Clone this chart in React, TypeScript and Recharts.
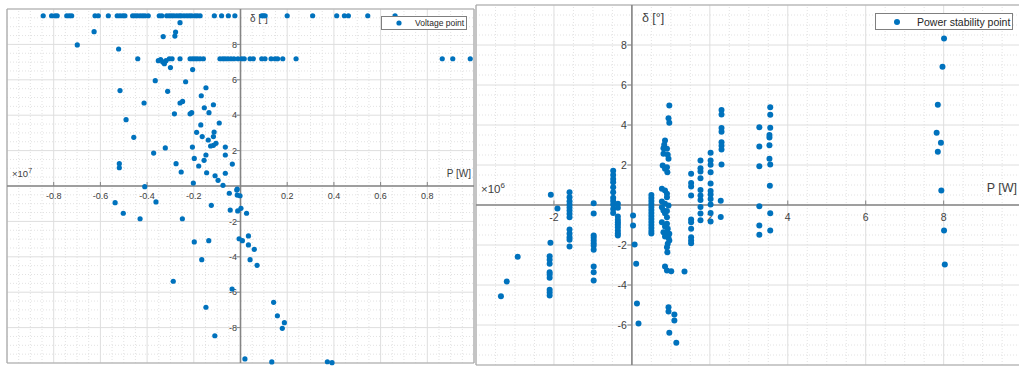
import React from 'react';
import { ScatterChart, Scatter, XAxis, YAxis, ReferenceLine, ReferenceDot, Legend } from 'recharts';

const BLUE = '#0072BD';
const FONT = '"Liberation Sans", Arial, Helvetica, sans-serif';
const TXT = '#404040';
const AXIS = '#858585';
const BOX = '#a8a8a8';
const MAJOR = '#dedede';
const MINOR = '#e2e2e2';

type Pt = [number, number];

// ---------------- Left panel: Voltage point ----------------
const voltageTopRow: Pt[] = [
  [-0.845, 9.62], [-0.809, 9.62], [-0.794, 9.62], [-0.785, 9.62], [-0.744, 9.62], [-0.733, 9.62], [-0.723, 9.62],
  [-0.623, 9.62], [-0.609, 9.62], [-0.566, 9.62], [-0.528, 9.62], [-0.516, 9.62], [-0.504, 9.62], [-0.495, 9.62],
  [-0.462, 9.62], [-0.452, 9.62], [-0.442, 9.62], [-0.43, 9.62], [-0.419, 9.62], [-0.409, 9.62], [-0.395, 9.62],
  [-0.348, 9.62], [-0.337, 9.62], [-0.316, 9.62], [-0.305, 9.62], [-0.295, 9.62], [-0.285, 9.62], [-0.273, 9.62],
  [-0.262, 9.62], [-0.254, 9.62], [-0.242, 9.62], [-0.23, 9.62], [-0.219, 9.62], [-0.209, 9.62], [-0.195, 9.62],
  [-0.185, 9.62], [-0.173, 9.62], [-0.112, 9.62], [-0.081, 9.62], [-0.052, 9.62], [-0.024, 9.62], [0.091, 9.62],
  [0.098, 9.62], [0.105, 9.62], [0.2, 9.62], [0.309, 9.62], [0.412, 9.62], [0.445, 9.62], [0.462, 9.62],
  [0.545, 9.62], [0.662, 9.62],
];

const voltageMidRow: Pt[] = [
  [-0.44, 7.19], [-0.352, 7.08], [-0.342, 7.14], [-0.333, 7.01], [-0.326, 6.91], [-0.319, 7.08], [-0.305, 7.19],
  [-0.293, 7.19], [-0.259, 7.19], [-0.216, 7.19], [-0.205, 7.19], [-0.195, 7.19], [-0.185, 7.19], [-0.173, 7.19],
  [-0.159, 7.19], [-0.088, 7.19], [-0.076, 7.19], [-0.066, 7.19], [-0.054, 7.19], [-0.041, 7.19], [-0.028, 7.19],
  [-0.011, 7.19], [0.005, 7.19], [0.016, 7.19], [0.041, 7.19], [0.055, 7.19], [0.091, 7.19], [0.105, 7.19],
  [0.131, 7.19], [0.148, 7.19], [0.159, 7.19], [0.181, 7.19], [0.238, 7.19], [0.864, 7.19], [0.909, 7.19],
  [0.984, 7.19],
];

const voltageScatter: Pt[] = [
  [-0.259, 9.23], [-0.627, 8.72], [-0.278, 8.7], [-0.331, 8.44], [-0.281, 8.47], [-0.699, 7.97], [-0.522, 7.74],
  [-0.3, 6.69], [-0.205, 6.58], [-0.365, 5.95], [-0.235, 5.89], [-0.148, 5.55], [-0.516, 5.39], [-0.312, 5.35],
  [-0.168, 5.1], [-0.248, 4.78], [-0.259, 4.69], [-0.413, 4.69], [-0.116, 4.59], [-0.155, 4.42], [-0.135, 4.14],
  [-0.283, 4.08], [-0.209, 4.14], [-0.216, 4.08], [-0.49, 3.75], [-0.091, 3.56], [-0.17, 3.45], [-0.188, 3.03],
  [-0.113, 3.05], [-0.164, 2.79], [-0.116, 2.79], [-0.457, 2.75], [-0.138, 2.6], [-0.105, 2.41], [-0.116, 2.3],
  [-0.128, 2.26], [-0.206, 2.2], [-0.065, 2.2], [-0.322, 2.15], [-0.372, 1.86], [-0.148, 1.75], [-0.065, 1.75],
  [-0.198, 1.56], [-0.156, 1.45], [-0.276, 1.26], [-0.035, 1.24], [-0.519, 1.26], [-0.519, 1.03], [-0.179, 1.13],
  [-0.254, 0.79], [-0.145, 0.75], [-0.065, 0.72], [-0.109, 0.58], [-0.096, 0.32], [-0.075, 0.04], [-0.202, 0.17],
  [-0.014, -0.17], [-0.41, -0.04], [-0.048, -0.41], [-0.016, -0.23], [-0.014, -0.51], [-0.002, -0.55],
  [-0.537, -0.94], [-0.362, -0.9], [-0.125, -1.09], [-0.502, -1.54], [-0.044, -1.36], [-0.012, -1.41],
  [0.002, -1.26], [0.026, -1.54], [-0.43, -1.85], [-0.249, -1.85], [-0.198, -3.16], [-0.136, -3.09],
  [-0.006, -2.98], [0.008, -3.09], [0.034, -2.82], [0.034, -3.33], [0.059, -3.58], [-0.166, -4.16],
  [0.041, -4.16], [0.071, -4.48], [-0.288, -5.38], [-0.036, -5.82], [-0.148, -6.85], [-0.11, -8.46],
  [0.142, -6.57], [0.158, -7.33], [0.188, -7.72], [0.179, -8.04], [0.019, -9.77], [0.134, -9.94],
  [0.372, -9.93], [0.392, -9.98],
];

const leftXDomain: [number, number] = [-1, 1];
const leftYDomain: [number, number] = [-10, 10];
const leftXTicks = [-0.8, -0.6, -0.4, -0.2, 0.2, 0.4, 0.6, 0.8];
const leftYTicks = [8, 6, 4, 2, -2, -4, -6, -8];

// ---------------- Right panel: Power stability point ----------------
const powerPoints: Pt[] = [
  [-3.36, -4.56], [-3.21, -3.83], [-2.93, -2.59],
  [-2.08, 0.51], [-1.91, -0.18], [-2.09, -1.89], [-2.11, -2.56], [-2.11, -2.74], [-2.11, -2.94], [-2.11, -3.36],
  [-2.11, -3.48], [-2.11, -3.64], [-2.11, -4.24], [-2.11, -4.38], [-2.11, -4.53],
  [-1.6, 0.64], [-1.6, 0.39], [-1.6, 0.19], [-1.6, 0.03], [-1.6, -0.13], [-1.6, -0.28], [-1.6, -0.44],
  [-1.6, -0.61], [-1.6, -1.22], [-1.6, -1.42], [-1.6, -1.61], [-1.6, -1.74], [-1.6, -2.07],
  [-0.98, 0.09], [-0.98, -0.42], [-0.98, -1.53], [-0.98, -1.64], [-0.98, -1.78], [-0.98, -1.91], [-0.98, -2.04],
  [-0.98, -2.24], [-0.98, -3.08], [-0.98, -3.36], [-0.98, -3.78],
  [-0.48, 1.71], [-0.48, 1.5], [-0.48, 1.3], [-0.48, 1.14], [-0.48, 0.89], [-0.48, 0.64], [-0.48, 0.36],
  [-0.48, 0.2], [-0.48, 0.03], [-0.48, -0.2], [-0.48, -0.4],
  [-0.36, 0.06], [-0.36, -0.14], [-0.36, -0.58], [-0.36, -0.74], [-0.36, -0.86], [-0.36, -0.98], [-0.36, -1.11],
  [-0.36, -1.28], [-0.36, -1.41], [-0.36, -1.53],
  [0.03, -0.53], [0.03, -1.03], [0.07, -1.98], [0.11, -2.94], [0.13, -4.93], [0.17, -5.93],
  [0.5, 0.5], [0.5, 0.35], [0.5, 0.2], [0.5, 0.05], [0.5, -0.1], [0.5, -0.25], [0.5, -0.4], [0.5, -0.55],
  [0.5, -0.7], [0.5, -0.85], [0.5, -1.0], [0.5, -1.15], [0.5, -1.3], [0.5, -1.42],
  [0.96, 4.98], [0.94, 4.34], [0.96, 4.11], [0.85, 3.23], [0.83, 3.01], [0.81, 2.84], [0.9, 2.81], [0.81, 2.56],
  [0.92, 2.51], [0.94, 2.31], [0.79, 1.98], [0.9, 1.89], [0.85, 1.81], [0.91, 1.64], [0.77, 0.81], [0.85, 0.73],
  [0.9, 0.56], [0.9, 0.39], [0.77, 0.18], [0.85, 0.06], [0.94, -0.03], [0.77, -0.11], [0.81, -0.28], [0.9, -0.3],
  [0.85, -0.41], [0.9, -0.61], [0.77, -0.86], [0.9, -0.94], [0.85, -1.08], [0.92, -1.19], [0.81, -1.36],
  [0.9, -1.41], [0.96, -1.44], [0.85, -1.58], [0.94, -1.64], [0.96, -1.78], [0.92, -1.94], [0.9, -2.11],
  [0.91, -2.36], [0.85, -3.08], [0.9, -3.28], [1.01, -3.31], [0.94, -5.11], [0.94, -5.33], [1.09, -5.48],
  [1.09, -5.78], [0.96, -6.39], [1.14, -6.89], [1.35, -3.33],
  [1.52, 1.56], [1.52, 1.1], [1.52, 0.92], [1.52, 0.48], [1.52, -0.72], [1.52, -0.86], [1.52, -1.19],
  [1.52, -1.61], [1.52, -1.78], [1.52, -1.91],
  [1.76, 2.23], [1.76, 1.84], [1.76, 1.68], [1.76, 1.34], [1.76, 0.75], [1.76, 0.47], [1.76, 0.25],
  [1.76, -0.1], [1.76, -0.42], [1.76, -0.76],
  [2.02, 2.61], [2.02, 2.23], [2.02, 2.01], [2.02, 1.64], [2.02, 1.08], [2.02, 0.7], [2.02, 0.52], [2.02, 0.3],
  [2.02, 0.03], [2.02, -0.4], [2.02, -0.82],
  [2.3, 4.75], [2.3, 4.53], [2.3, 3.85], [2.3, 3.66], [2.3, 3.14], [2.3, 2.96], [2.3, 2.77], [2.3, 2.02],
  [2.28, 0.21], [2.28, -0.6],
  [3.55, 4.89], [3.55, 4.51], [3.27, 3.89], [3.55, 3.86], [3.53, 3.5], [3.53, 3.38], [3.27, 2.93], [3.53, 2.99],
  [3.53, 2.31], [3.55, 2.03], [3.27, 1.94], [3.54, 0.96], [3.27, -0.06], [3.55, -0.41], [3.27, -1.03],
  [3.55, -1.28], [3.27, -1.49],
  [8.01, 8.33], [7.97, 6.91], [7.85, 5.01], [7.82, 3.61], [7.93, 3.11], [7.85, 2.66], [7.94, 0.73],
  [8.01, -1.28], [8.03, -2.98],
];

const rightXDomain: [number, number] = [-4, 10];
const rightYDomain: [number, number] = [-8, 10];
const rightXTicks = [-2, 2, 4, 6, 8];
const rightYTicks = [8, 6, 4, 2, -2, -4, -6];

// ---------------- helpers ----------------
const toData = (pts: Pt[]) => pts.map(([x, y]) => ({ x, y }));

function steps(a: number, b: number, step: number): number[] {
  const out: number[] = [];
  const n = Math.round((b - a) / step);
  for (let i = 0; i <= n; i++) out.push(+(a + i * step).toFixed(4));
  return out;
}

function gridLines(axis: 'x' | 'y', domain: [number, number], major: number, minor: number, prefix: string) {
  const minorVals = steps(domain[0], domain[1], minor);
  const isMajor = (v: number) => Math.abs(v / major - Math.round(v / major)) < 1e-6;
  const els: React.ReactNode[] = [];
  minorVals.forEach((v, i) => {
    if (isMajor(v)) return;
    const p = axis === 'x' ? { x: v } : { y: v };
    els.push(
      <ReferenceLine key={`${prefix}m${axis}${i}`} {...p} stroke={MINOR} strokeWidth={1} strokeDasharray="1 2" ifOverflow="visible" />
    );
  });
  steps(domain[0], domain[1], major).forEach((v, i) => {
    const p = axis === 'x' ? { x: v } : { y: v };
    els.push(<ReferenceLine key={`${prefix}M${axis}${i}`} {...p} stroke={MAJOR} strokeWidth={1} ifOverflow="visible" />);
  });
  return els;
}

function boxLines(xd: [number, number], yd: [number, number], prefix: string) {
  return [
    <ReferenceLine key={`${prefix}b1`} x={xd[0]} stroke={BOX} strokeWidth={1.2} ifOverflow="visible" />,
    <ReferenceLine key={`${prefix}b2`} x={xd[1]} stroke={BOX} strokeWidth={1.2} ifOverflow="visible" />,
    <ReferenceLine key={`${prefix}b3`} y={yd[0]} stroke={BOX} strokeWidth={1.2} ifOverflow="visible" />,
    <ReferenceLine key={`${prefix}b4`} y={yd[1]} stroke={BOX} strokeWidth={1.2} ifOverflow="visible" />,
  ];
}

interface TickOpts {
  fontSize: number;
  xLabelDy: number;
  yLabelDx: number;
  yLabelDy: number;
  tickLen: number;
}

function tickMarks(xTicks: number[], yTicks: number[], o: TickOpts, prefix: string) {
  const els: React.ReactNode[] = [];
  xTicks.forEach((t, i) => {
    els.push(
      <ReferenceDot
        key={`${prefix}tx${i}`}
        x={t}
        y={0}
        r={0}
        ifOverflow="visible"
        shape={(p: any) => (
          <g>
            <line x1={p.cx} x2={p.cx} y1={p.cy} y2={p.cy - o.tickLen} stroke={AXIS} strokeWidth={1} />
            <text x={p.cx} y={p.cy + o.xLabelDy} textAnchor="middle" fontSize={o.fontSize} fill={TXT} fontFamily={FONT}>
              {String(t)}
            </text>
          </g>
        )}
      />
    );
  });
  yTicks.forEach((t, i) => {
    els.push(
      <ReferenceDot
        key={`${prefix}ty${i}`}
        x={0}
        y={t}
        r={0}
        ifOverflow="visible"
        shape={(p: any) => (
          <g>
            <line x1={p.cx - o.tickLen} x2={p.cx} y1={p.cy} y2={p.cy} stroke={AXIS} strokeWidth={1} />
            <text x={p.cx - o.yLabelDx} y={p.cy + o.yLabelDy} textAnchor="end" fontSize={o.fontSize} fill={TXT} fontFamily={FONT}>
              {String(t)}
            </text>
          </g>
        )}
      />
    );
  });
  return els;
}

function textAt(key: string, x: number, y: number, render: (cx: number, cy: number) => React.ReactNode) {
  return <ReferenceDot key={key} x={x} y={y} r={0} ifOverflow="visible" shape={(p: any) => <g>{render(p.cx, p.cy)}</g>} />;
}

const dot = (r: number) => (p: any) => <circle cx={p.cx} cy={p.cy} r={r} fill={BLUE} />;

// ---------------- panels ----------------
function VoltagePanel() {
  const data = toData([...voltageTopRow, ...voltageMidRow, ...voltageScatter]);
  return (
    <ScatterChart width={480} height={366} margin={{ top: 9, right: 6, bottom: 3, left: 7 }}>
      <XAxis type="number" dataKey="x" domain={leftXDomain} hide />
      <YAxis type="number" dataKey="y" domain={leftYDomain} hide />
      {gridLines('x', leftXDomain, 0.2, 0.05, 'L')}
      {gridLines('y', leftYDomain, 2, 0.5, 'L')}
      {boxLines(leftXDomain, leftYDomain, 'L')}
      <ReferenceLine x={0} stroke={AXIS} strokeWidth={1.6} />
      <ReferenceLine y={0} stroke={AXIS} strokeWidth={1.6} />
      {tickMarks(leftXTicks, leftYTicks, { fontSize: 9, xLabelDy: 13, yLabelDx: 3.5, yLabelDy: 3.2, tickLen: 4 }, 'L')}
      {textAt('Ldelta', 0, leftYDomain[1], (cx, cy) => (
        <text x={cx + 9.5} y={cy + 13} fontSize={10} fill={TXT} fontFamily={FONT}>δ [°]</text>
      ))}
      {textAt('Lp', leftXDomain[1], 0, (cx, cy) => (
        <text x={cx - 3} y={cy - 9} textAnchor="end" fontSize={10} fill={TXT} fontFamily={FONT}>P [W]</text>
      ))}
      {textAt('Lexp', leftXDomain[0], 0, (cx, cy) => (
        <text x={cx + 5} y={cy - 9.5} fontSize={9.5} fill={TXT} fontFamily={FONT}>
          ×10<tspan dy={-4} fontSize={7}>7</tspan>
        </text>
      ))}
      <Legend
        layout="horizontal"
        verticalAlign="middle"
        align="center"
        wrapperStyle={{ position: 'absolute', left: 381, top: 16, width: 86, height: 14 }}
        content={() => (
          <div
            style={{
              boxSizing: 'border-box', width: 86, height: 14, border: '1px solid #7f7f7f', background: '#fff',
              position: 'relative', fontFamily: FONT, fontSize: 8.5, color: '#262626',
            }}
          >
            <svg width={10} height={10} style={{ position: 'absolute', left: 12, top: 1 }}>
              <circle cx={5} cy={5} r={2.6} fill={BLUE} />
            </svg>
            <span style={{ position: 'absolute', left: 33, top: 1, lineHeight: '10px', whiteSpace: 'nowrap' }}>Voltage point</span>
          </div>
        )}
      />
      <Scatter name="Voltage point" data={data} fill={BLUE} isAnimationActive={false} shape={dot(2.6)} />
    </ScatterChart>
  );
}

function PowerPanel() {
  const data = toData(powerPoints);
  return (
    <ScatterChart width={560} height={366} margin={{ top: 5, right: 8.4, bottom: 1, left: 6 }}>
      <XAxis type="number" dataKey="x" domain={rightXDomain} hide />
      <YAxis type="number" dataKey="y" domain={rightYDomain} hide />
      {gridLines('x', rightXDomain, 2, 0.5, 'R')}
      {gridLines('y', rightYDomain, 2, 0.5, 'R')}
      {boxLines(rightXDomain, rightYDomain, 'R')}
      <ReferenceLine x={0} stroke={AXIS} strokeWidth={1.6} />
      <ReferenceLine y={0} stroke={AXIS} strokeWidth={1.6} />
      {tickMarks(rightXTicks, rightYTicks, { fontSize: 10.5, xLabelDy: 15.5, yLabelDx: 5, yLabelDy: 3.8, tickLen: 4.5 }, 'R')}
      {textAt('Rdelta', 0, rightYDomain[1], (cx, cy) => (
        <text x={cx + 10} y={cy + 16.5} fontSize={12.5} fill={TXT} fontFamily={FONT}>δ [°]</text>
      ))}
      {textAt('Rp', rightXDomain[1], 0, (cx, cy) => (
        <text x={cx - 4.6} y={cy - 13.5} textAnchor="end" fontSize={12.5} fill={TXT} fontFamily={FONT}>P [W]</text>
      ))}
      {textAt('Rexp', rightXDomain[0], 0, (cx, cy) => (
        <text x={cx + 5} y={cy - 12.5} fontSize={11.5} fill={TXT} fontFamily={FONT}>
          ×10<tspan dy={-5} fontSize={8}>6</tspan>
        </text>
      ))}
      <Legend
        layout="horizontal"
        verticalAlign="middle"
        align="center"
        wrapperStyle={{ position: 'absolute', left: 405, top: 13, width: 138, height: 17 }}
        content={() => (
          <div
            style={{
              boxSizing: 'border-box', width: 138, height: 17, border: '1px solid #7f7f7f', background: '#fff',
              position: 'relative', fontFamily: FONT, fontSize: 10.5, color: '#262626',
            }}
          >
            <svg width={10} height={10} style={{ position: 'absolute', left: 16, top: 2.5 }}>
              <circle cx={5} cy={5} r={3} fill={BLUE} />
            </svg>
            <span style={{ position: 'absolute', left: 41, top: 1.5, lineHeight: '12px', whiteSpace: 'nowrap' }}>
              Power stability point
            </span>
          </div>
        )}
      />
      <Scatter name="Power stability point" data={data} fill={BLUE} isAnimationActive={false} shape={dot(3)} />
    </ScatterChart>
  );
}

export default function App() {
  return (
    <div
      style={{
        position: 'absolute', left: 0, top: 0, width: 1019, height: 366, overflow: 'hidden', background: '#fff',
      }}
    >
      <div style={{ position: 'absolute', left: 0, top: 0 }}>
        <VoltagePanel />
      </div>
      <div style={{ position: 'absolute', left: 470, top: 0 }}>
        <PowerPanel />
      </div>
    </div>
  );
}
